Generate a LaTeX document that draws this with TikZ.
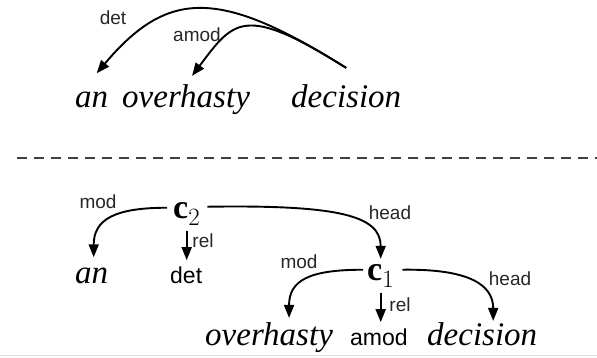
\documentclass[tikz,border=0pt]{standalone}
\usepackage{fontspec}
\setmainfont{Liberation Serif}
\newfontfamily\labfont{Liberation Sans}
\usetikzlibrary{arrows.meta,calc}

\tikzset{
  wordtxt/.style={font=\fontsize{33}{36}\selectfont\itshape, inner sep=0pt, anchor=base west},
  tagtxt/.style={font=\labfont\fontsize{23}{26}\selectfont, inner sep=0pt, anchor=base west},
  lbl/.style={font=\labfont\fontsize{19}{22}\selectfont, inner sep=0pt, text=black!85},
  cnode/.style={font=\fontsize{34}{36}\selectfont, inner sep=0pt, anchor=base west},
  arc/.style={line width=1.9pt, -{Triangle[length=13pt,width=10pt]}},
  sep/.style={line width=2pt, black!75, dash pattern=on 10pt off 7pt},
}

\begin{document}
\begin{tikzpicture}[x=1pt, y=-1pt]
\useasboundingbox (0,0) rectangle (597,357);

% ---- dependency tree ----
\node[wordtxt] (an1) at (75,107) {an};
\node[wordtxt] (ov1) at (122,107) {overhasty};
\node[wordtxt] (de1) at (291,107) {decision};

\draw[arc] ([yshift=16pt]de1.north) .. controls +(-127,-80) and +(71,-84) .. ([xshift=5pt,yshift=18pt]an1.north);
\draw[arc] ([yshift=16pt]de1.north) .. controls +(-102,-64) and +(42,-56) .. ([xshift=6pt,yshift=8pt]ov1.north);
\node[lbl] (ldet) at (113,18) {det};
\node[lbl] (lamod) at (197,35) {amod};

% ---- separator ----
\coordinate (sepL) at (17,158);
\coordinate (sepR) at (597,158);
\draw[sep] (sepL) -- (sepR);

% ---- composition tree ----
\node[wordtxt] (an2) at (75,283) {an};
\node[tagtxt] (det2) at (170,283) {det};
\node[cnode] (c2) at (173,218) {$\mathbf{c}_2$};
\node[cnode] (c1) at (367,280) {$\mathbf{c}_1$};
\node[wordtxt] (ov2) at (205,345) {overhasty};
\node[tagtxt] (amod2) at (350,345) {amod};
\node[wordtxt] (de2) at (427,345) {decision};

\draw[arc] ([xshift=-6pt,yshift=6pt]c2.west) .. controls +(-52,0) and +(0,-38) .. ([xshift=2pt,yshift=10pt]an2.north);
\draw[arc] ([yshift=-5pt]c2.south) -- ($(c2.south |- det2.north)+(0,-6)$);
\draw[arc] ([xshift=7pt,yshift=7pt]c2.east) .. controls +(132,-2) and +(0,-43) .. ([yshift=5pt]c1.north);
\node[lbl] (lmod2) at (98,202) {mod};
\node[lbl] (lrel2) at (203,241) {rel};
\node[lbl] (lhead2) at (390,213) {head};

\draw[arc] ([xshift=-4pt,yshift=6pt]c1.west) .. controls +(-53,0) and +(0,-38) .. ([xshift=20pt,yshift=4pt]ov2.north);
\draw[arc] ([yshift=-5pt]c1.south) -- ($(c1.south |- amod2.north)+(0,-6)$);
\draw[arc] ([xshift=8pt,yshift=6pt]c1.east) .. controls +(67,-1) and +(0,-36) .. ([xshift=11pt,yshift=1pt]de2.north);
\node[lbl] (lmod1) at (299,262) {mod};
\node[lbl] (lrel1) at (400,305) {rel};
\node[lbl] (lhead1) at (510,279) {head};

% ---- bottom rule ----
\coordinate (ruleL) at (0,355.5);
\coordinate (ruleR) at (597,355.5);
\draw[black!12, line width=1pt] (ruleL) -- (ruleR);
\end{tikzpicture}
\end{document}
